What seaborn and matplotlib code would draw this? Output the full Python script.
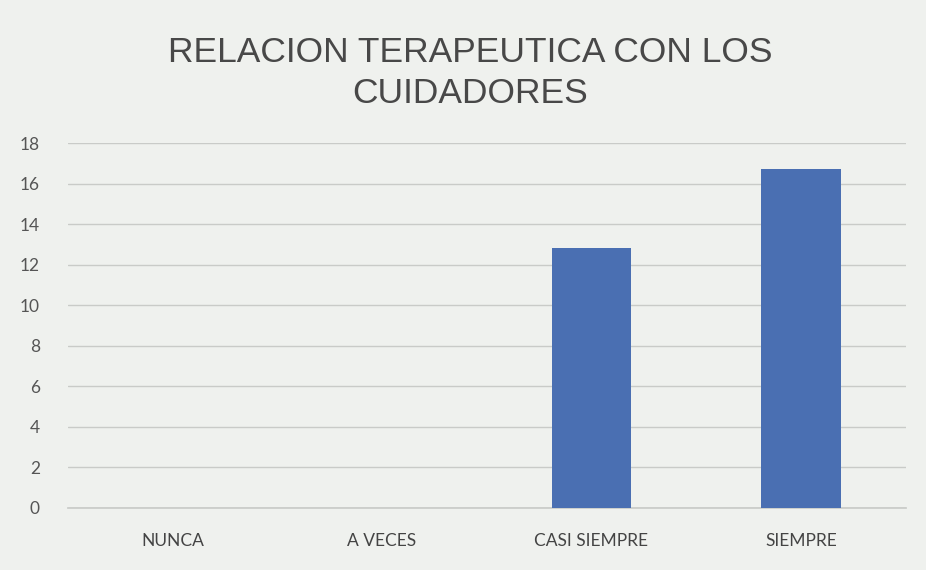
import pandas as pd
import seaborn as sns
import matplotlib
matplotlib.use("Agg")
import matplotlib.pyplot as plt

categories = ["NUNCA", "A VECES", "CASI SIEMPRE", "SIEMPRE"]
values = [0, 0, 12.8, 16.7]
y_ticks = [0, 2, 4, 6, 8, 10, 12, 14, 16, 18]

BG = "#eff1ee"
BAR = "#4a6fb2"

sns.set_theme(style="white")
plt.rcParams["font.family"] = ["Lato", "DejaVu Sans"]

df = pd.DataFrame({"categoria": categories, "valor": values})

fig = plt.figure(figsize=(9.26, 5.70), dpi=100, facecolor=BG)
ax = fig.add_axes([0.073, 0.109, 0.905, 0.64])
ax.set_facecolor(BG)

sns.barplot(data=df, x="categoria", y="valor", color=BAR, width=0.38,
            saturation=1, ax=ax, zorder=3, edgecolor="none", linewidth=0)

ax.set_ylim(0, 18)
ax.set_yticks(y_ticks)
ax.set_xlim(-0.5, 3.5)
ax.grid(axis="y", color="#c9cbc8", linewidth=1, zorder=0)
ax.grid(axis="x", visible=False)
for side in ["top", "right", "left"]:
    ax.spines[side].set_visible(False)
ax.spines["bottom"].set_color("#c9cbc8")
ax.tick_params(axis="y", length=0, pad=20, labelsize=12.5, labelcolor="#555555")
ax.tick_params(axis="x", length=0, pad=18, labelsize=12.5, labelcolor="#444444")
ax.set_xlabel("")
ax.set_ylabel("")

fig.text(0.508, 0.937, "RELACION TERAPEUTICA CON LOS\nCUIDADORES", ha="center", va="top",
         fontsize=25.5, color="#484848", family=["Liberation Sans", "DejaVu Sans"],
         linespacing=1.3)

fig.savefig("out.png", dpi=100, facecolor=BG)
